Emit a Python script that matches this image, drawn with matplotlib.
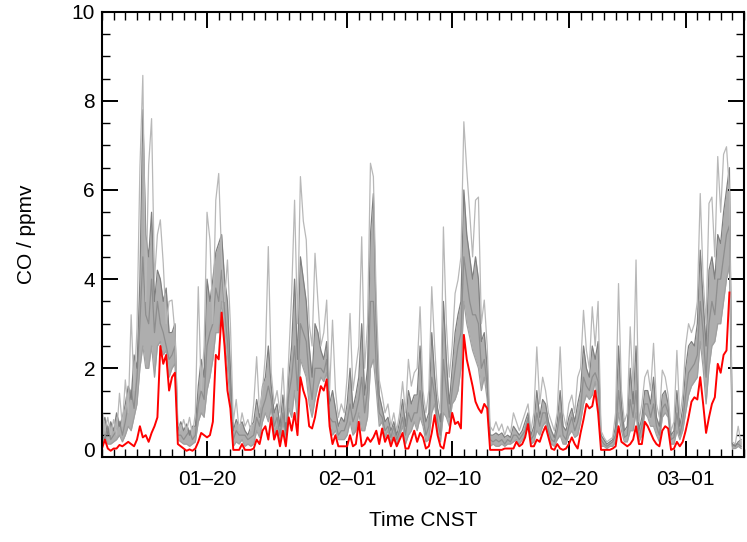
import numpy as np
import matplotlib
matplotlib.use("Agg")
import matplotlib.pyplot as plt
import matplotlib.dates as mdates
import matplotlib.transforms as mtransforms

plt.rcParams['font.family'] = ['Liberation Sans', 'DejaVu Sans']

# 6-hourly time axis, Jan 11 - Mar 6 2020 (CNST)
t = np.arange(np.datetime64('2020-01-11T00'), np.datetime64('2020-03-06T00'), np.timedelta64(6, 'h'))

# observed CO (red), ppmv
co_obs = [0.2,0.4,0.2,0.15, 0.2,0.2,0.28,0.25,
          0.3,0.35,0.3,0.25, 0.4,0.7,0.45,0.5,
          0.35,0.55,0.7,0.9, 2.5,2.1,2.3,1.5,
          1.8,1.9,0.3,0.25, 0.2,0.15,0.18,0.15,
          0.2,0.35,0.55,0.5, 0.45,0.5,0.8,2.3,
          2.2,3.25,2.5,1.5, 1.1,0.17,0.17,0.17,
          0.3,0.17,0.17,0.17, 0.2,0.4,0.3,0.6,
          0.7,0.4,0.9,0.4, 0.6,0.25,0.6,0.25,
          0.9,0.6,1.0,0.5, 1.8,1.5,1.3,0.7,
          0.65,0.9,1.3,1.6, 1.5,1.75,0.7,0.3,
          0.5,0.25,0.25,0.25, 0.25,0.5,0.25,0.3,
          0.8,0.25,0.3,0.45, 0.35,0.45,0.6,0.3,
          0.65,0.35,0.5,0.25, 0.45,0.25,0.4,0.55,
          0.2,0.2,0.4,0.6, 0.35,0.55,0.45,0.2,
          0.25,0.55,0.95,0.5, 0.25,0.2,0.55,0.55,
          1.0,0.75,0.8,0.65, 2.75,2.2,1.9,1.6,
          1.25,1.1,1.0,1.2, 1.1,0.17,0.17,0.17,
          0.17,0.17,0.2,0.2, 0.2,0.2,0.35,0.25,
          0.3,0.45,0.75,0.25, 0.25,0.4,0.35,0.55,
          0.7,0.45,0.2,0.17, 0.3,0.2,0.17,0.2,
          0.3,0.45,0.3,0.2, 0.55,0.85,1.2,1.1,
          1.15,1.5,1.0,0.17, 0.17,0.17,0.17,0.2,
          0.25,0.7,0.35,0.3, 0.25,0.3,0.4,0.7,
          0.3,0.3,0.8,0.7, 0.55,0.4,0.3,0.25,
          0.6,0.7,0.65,0.17, 0.2,0.35,0.25,0.35,
          0.6,0.9,1.25,1.35, 1.3,1.8,1.2,0.55,
          0.9,1.2,1.35,2.1, 1.9,2.3,2.4,3.7,
          np.nan,np.nan,np.nan,np.nan]

# model ensemble members (gray)
mem_a = [1.1,0.6,0.9,0.5, 0.85,0.5,1.44,0.7,
         1.74,1.0,3.2,1.5, 2.9,6.5,8.57,3.5,
         6.56,7.6,4.0,5.0, 5.33,4.35,3.0,3.5,
         3.53,2.8,0.8,0.6, 0.85,0.6,0.9,0.5,
         1.0,3.83,1.5,2.5, 5.5,4.88,3.0,5.77,
         6.37,4.5,3.5,4.43, 3.0,0.8,1.3,0.6,
         1.0,0.7,0.85,0.6, 1.2,2.26,1.0,1.5,
         2.3,4.73,1.9,1.2, 1.5,1.0,2.0,0.8,
         2.26,3.68,5.77,3.0, 6.3,5.3,4.88,3.0,
         2.5,4.58,3.5,2.5, 2.8,3.53,1.5,3.08,
         1.5,0.9,1.2,1.0, 1.8,3.23,1.5,2.0,
         2.5,4.95,2.0,3.0, 6.6,6.3,3.5,1.74,
         1.4,1.0,1.2,0.7, 1.0,0.6,1.0,1.7,
         1.0,2.2,1.6,1.9, 2.0,3.38,1.5,1.0,
         1.5,3.83,2.5,1.4, 1.0,5.17,3.0,1.8,
         2.5,3.68,3.98,4.5, 7.53,6.45,5.5,4.5,
         5.77,5.84,3.0,3.53, 2.5,0.7,0.6,0.8,
         0.6,0.75,0.5,0.7, 0.55,1.0,0.8,0.6,
         0.8,1.0,1.2,0.6, 1.0,2.48,1.2,1.8,
         1.5,1.0,0.8,0.6, 1.0,2.48,1.0,0.7,
         1.2,1.4,1.0,1.8, 2.0,3.3,2.4,2.0,
         3.38,2.5,3.5,0.6, 0.45,0.35,0.4,0.45,
         1.0,3.9,1.5,0.8, 1.0,2.93,1.5,4.43,
         0.8,1.2,1.8,1.96, 1.5,2.56,1.2,0.9,
         1.96,1.8,1.4,0.6, 0.8,2.4,0.9,1.4,
         2.5,3.0,2.8,3.0, 3.5,5.92,4.0,3.0,
         5.7,5.84,4.5,6.75, 5.5,6.8,6.97,6.0,
         0.35,0.3,0.7,0.3]
mem_b = [0.7,0.9,0.5,0.8, 0.6,1.0,0.7,0.9,
         1.2,1.6,1.3,2.3, 2.0,4.0,7.8,5.0,
         4.5,5.5,3.5,4.2, 4.0,3.5,3.8,2.8,
         2.8,3.0,0.6,0.8, 0.6,0.75,0.5,0.7,
         0.7,1.6,2.2,1.8, 4.0,3.5,4.0,4.6,
         4.8,5.0,4.0,3.5, 2.0,0.6,0.85,0.7,
         0.8,0.6,0.5,0.7, 0.8,1.3,0.9,1.6,
         1.8,2.5,1.6,1.0, 1.2,0.7,1.4,0.6,
         1.8,2.5,4.0,2.2, 4.5,4.0,3.5,2.5,
         1.8,3.0,2.8,2.4, 2.2,2.6,1.2,1.5,
         1.1,0.7,0.9,0.8, 1.2,2.0,1.1,1.4,
         1.8,3.0,1.4,2.0, 5.0,5.92,3.0,1.4,
         1.1,0.8,0.9,0.6, 0.8,0.5,0.8,1.3,
         0.7,1.5,1.2,1.4, 1.4,2.5,1.2,0.8,
         1.0,2.8,1.8,1.1, 0.8,3.5,2.2,1.2,
         2.0,2.8,3.2,3.5, 6.0,5.0,4.5,4.0,
         4.5,4.0,2.6,2.8, 2.0,0.5,0.5,0.55,
         0.5,0.55,0.45,0.5, 0.45,0.7,0.6,0.5,
         0.6,0.8,1.0,0.5, 0.7,1.5,0.9,1.3,
         1.2,0.8,0.6,0.45, 0.8,1.5,0.7,0.6,
         0.9,1.1,0.8,1.2, 1.5,2.5,2.0,1.8,
         2.5,2.2,2.6,0.5, 0.4,0.3,0.35,0.4,
         0.7,2.5,1.2,0.6, 0.7,2.0,1.2,2.5,
         0.6,0.9,1.5,1.5, 1.2,1.8,0.9,0.7,
         1.4,1.5,1.2,0.5, 0.6,1.5,0.7,1.1,
         2.0,2.5,2.6,2.5, 3.0,4.65,3.5,2.5,
         4.2,4.5,4.0,5.0, 4.8,5.5,6.0,6.5,
         0.3,0.25,0.35,0.4]
mem_c = [0.5,0.4,0.7,0.4, 0.5,0.6,0.8,0.5,
         0.8,1.2,1.5,1.1, 1.8,3.0,4.5,3.2,
         3.0,4.0,2.8,3.5, 3.0,2.8,2.5,2.2,
         2.3,2.5,0.5,0.5, 0.4,0.5,0.6,0.4,
         0.5,1.2,1.5,1.3, 2.5,2.8,3.0,3.8,
         3.5,4.2,3.3,2.6, 1.5,0.4,0.6,0.5,
         0.5,0.5,0.4,0.45, 0.5,0.9,0.7,1.1,
         1.3,1.6,1.3,0.7, 0.9,0.5,1.0,0.5,
         1.4,1.8,2.5,1.5, 3.0,2.8,2.6,1.8,
         1.3,2.0,2.0,2.0, 1.9,2.2,0.9,0.8,
         0.8,0.5,0.6,0.6, 0.8,1.2,0.8,1.0,
         1.3,1.8,1.0,1.5, 3.5,3.5,2.0,1.0,
         0.9,0.6,0.7,0.45, 0.7,0.4,0.6,0.9,
         0.5,1.0,0.8,1.0, 1.0,1.5,0.9,0.5,
         0.7,1.8,1.4,0.8, 0.5,2.2,1.5,0.9,
         1.5,2.0,2.5,2.8, 4.5,4.0,3.5,3.2,
         3.2,3.0,2.0,2.2, 1.6,0.4,0.35,0.4,
         0.35,0.4,0.3,0.4, 0.35,0.5,0.5,0.4,
         0.5,0.6,0.9,0.4, 0.5,1.0,0.7,1.0,
         1.0,0.6,0.4,0.35, 0.6,1.0,0.5,0.4,
         0.7,0.9,0.6,0.8, 1.1,1.8,1.6,1.5,
         1.8,1.9,1.7,0.4, 0.3,0.25,0.3,0.35,
         0.5,1.5,0.9,0.45, 0.5,1.3,0.9,1.5,
         0.45,0.7,1.2,1.2, 0.9,1.2,0.7,0.5,
         1.1,1.2,1.0,0.4, 0.45,1.0,0.5,0.8,
         1.4,1.9,2.0,2.1, 2.3,3.5,2.8,1.8,
         3.0,3.5,3.2,4.0, 4.0,4.5,5.0,5.2,
         0.25,0.3,0.3,0.25]
mem_d = [0.3,0.5,0.3,0.3, 0.35,0.4,0.5,0.35,
         0.5,0.7,0.6,0.9, 1.2,2.0,2.5,2.0,
         2.0,2.5,1.8,2.5, 2.6,2.3,2.4,1.8,
         2.0,2.1,0.4,0.35, 0.3,0.3,0.25,0.3,
         0.35,0.8,1.0,0.9, 1.5,1.8,2.2,2.8,
         2.8,3.5,2.7,2.0, 1.2,0.25,0.35,0.3,
         0.4,0.25,0.3,0.25, 0.3,0.6,0.45,0.8,
         1.0,0.8,1.1,0.5, 0.7,0.35,0.8,0.35,
         1.1,0.9,1.5,0.8, 2.2,2.0,1.8,1.2,
         0.9,1.3,1.6,1.8, 1.7,1.9,0.8,0.5,
         0.6,0.4,0.4,0.4, 0.5,0.8,0.5,0.6,
         1.0,0.6,0.6,0.9, 2.0,2.2,1.5,0.7,
         0.8,0.45,0.6,0.35, 0.55,0.3,0.5,0.7,
         0.3,0.5,0.6,0.8, 0.6,0.9,0.7,0.35,
         0.4,1.0,1.2,0.6, 0.35,1.0,0.9,0.7,
         1.2,1.3,1.5,2.0, 3.5,3.0,2.7,2.4,
         2.2,2.0,1.5,1.8, 1.3,0.25,0.3,0.25,
         0.25,0.3,0.25,0.3, 0.3,0.35,0.4,0.3,
         0.4,0.5,0.8,0.3, 0.35,0.6,0.5,0.7,
         0.8,0.5,0.3,0.25, 0.4,0.5,0.3,0.3,
         0.5,0.6,0.45,0.5, 0.8,1.2,1.4,1.3,
         1.4,1.7,1.2,0.25, 0.25,0.2,0.25,0.25,
         0.35,1.0,0.6,0.35, 0.35,0.6,0.6,1.0,
         0.35,0.5,1.0,0.9, 0.7,0.7,0.5,0.35,
         0.9,1.0,0.9,0.3, 0.3,0.6,0.4,0.6,
         1.0,1.4,1.6,1.7, 1.8,2.6,2.0,1.2,
         2.0,2.5,2.6,3.0, 3.0,3.5,4.0,4.3,
         0.2,0.2,0.25,0.2]

members = [mem_d, mem_c, mem_b, mem_a]
member_colors = ['#a0a0a0', '#8e8e8e', '#808080', '#b8b8b8']

major_dates = ['2020-01-20', '2020-02-01', '2020-02-10', '2020-02-20', '2020-03-01']
major_labels = ['01\u201320', '02\u201301', '02\u201310', '02\u201320', '03\u201301']

fig = plt.figure(figsize=(7.47, 5.42), dpi=100)
ax = fig.add_axes([0.1365, 0.156, 0.8595, 0.8225])

# spread of the ensemble drawn as a dense gray band, members on top
lo = np.minimum(mem_d, mem_c)
hi = np.maximum(mem_b, mem_c)
ax.fill_between(t, lo, hi, color='#8c8c8c', alpha=0.7, lw=0)
for m, c in zip(members, member_colors):
    ax.plot(t, m, color=c, lw=0.9)
ax.plot(t, co_obs, color='red', lw=1.4)

ax.set_xlim(np.datetime64('2020-01-11T00'), np.datetime64('2020-03-06T00'))
ax.set_ylim(0, 10)

ax.set_xticks([np.datetime64(d) for d in major_dates])
ax.set_xticklabels(major_labels)
ax.xaxis.set_minor_locator(mdates.DayLocator())
ax.set_yticks([0, 2, 4, 6, 8, 10])
ax.yaxis.set_minor_locator(matplotlib.ticker.MultipleLocator(0.5))

ax.tick_params(which='both', direction='in', top=True, right=True, labelsize=15, width=1.4)
ax.tick_params(axis='x', which='major', length=11.5, pad=9)
ax.tick_params(axis='y', which='major', length=11.5, pad=5)
ax.tick_params(which='minor', length=5.8, width=1.0)
for s in ax.spines.values():
    s.set_linewidth(1.5)

# zero label sits a little higher, as in the original
lab0 = ax.get_yticklabels()[0]
lab0.set_transform(lab0.get_transform() + mtransforms.ScaledTranslation(0, 6/72, fig.dpi_scale_trans))

ax.set_xlabel('Time CNST', fontsize=15, labelpad=16)
ax.set_ylabel('CO / ppmv', fontsize=15, labelpad=26)

fig.savefig('out.png', dpi=100)
